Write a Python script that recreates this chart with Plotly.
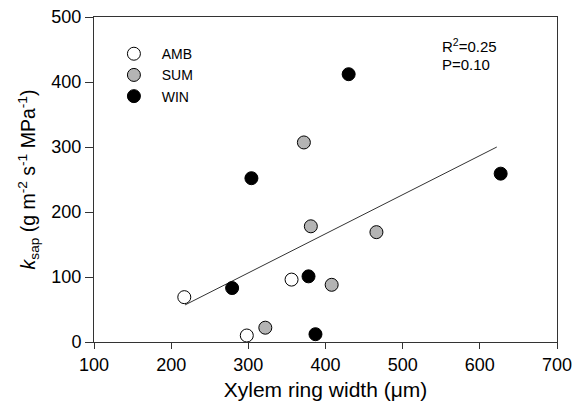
import plotly.graph_objects as go

amb_x = [217, 298, 356]
amb_y = [69, 10, 96]
sum_x = [372, 322, 381, 466, 408]
sum_y = [307, 22, 178, 169, 88]
win_x = [279, 304, 430, 627, 378, 387]
win_y = [83, 252, 412, 259, 101, 12]
fit_x = [218, 622]
fit_y = [57, 300]
x_ticks = [100, 200, 300, 400, 500, 600, 700]
y_ticks = [0, 100, 200, 300, 400, 500]

FONT = "Liberation Sans, Arial, sans-serif"
fig = go.Figure()
fig.add_trace(go.Scatter(x=fit_x, y=fit_y, mode="lines", line=dict(color="#333333", width=1),
                         showlegend=False, hoverinfo="skip"))
for name, xs, ys, col in [("AMB", amb_x, amb_y, "white"), ("SUM", sum_x, sum_y, "#b4b4b4"),
                          ("WIN", win_x, win_y, "black")]:
    fig.add_trace(go.Scatter(x=xs, y=ys, mode="markers", name="&nbsp;&nbsp;" + name,
                             marker=dict(size=13, color=col, line=dict(color="black", width=1))))

ytitle = ("<i>k</i><sub>sap</sub> (g m<sup>-2</sup> s<sup>-1</sup> MPa<sup>-1</sup>)")

fig.update_layout(
    width=583, height=404, margin=dict(l=94, r=26, t=17, b=62),
    plot_bgcolor="white", paper_bgcolor="white",
    font=dict(family=FONT, size=18, color="black"),
    legend=dict(x=0.043, y=0.935, xanchor="left", yanchor="top", bgcolor="rgba(0,0,0,0)",
                font=dict(size=14), itemsizing="trace", tracegroupgap=0),
    xaxis=dict(range=[100, 700], tickvals=x_ticks, ticks="outside", ticklen=6, tickcolor="#333",
               showline=True, linecolor="#333", linewidth=1, mirror=True, showgrid=False, zeroline=False,
               automargin=False,
               title=dict(text="Xylem ring width (μm)", font=dict(size=21), standoff=8)),
    yaxis=dict(range=[0, 500], tickvals=y_ticks, ticks="outside", ticklen=8, tickcolor="#333",
               showline=True, linecolor="#333", linewidth=1, mirror=True, showgrid=False, zeroline=False,
               automargin=False,
               title=dict(text=ytitle, font=dict(size=19.5), standoff=10)),
    annotations=[
        dict(x=0.748, y=0.911, xref="paper", yref="paper", xanchor="left", yanchor="middle",
             showarrow=False, font=dict(size=15), text="R<sup>2</sup>=0.25"),
        dict(x=0.748, y=0.855, xref="paper", yref="paper", xanchor="left", yanchor="middle",
             showarrow=False, font=dict(size=15), text="P=0.10"),
    ],
)
fig.write_html("out.html", config={"displayModeBar": False},
               post_script="document.body.style.margin='0';")
